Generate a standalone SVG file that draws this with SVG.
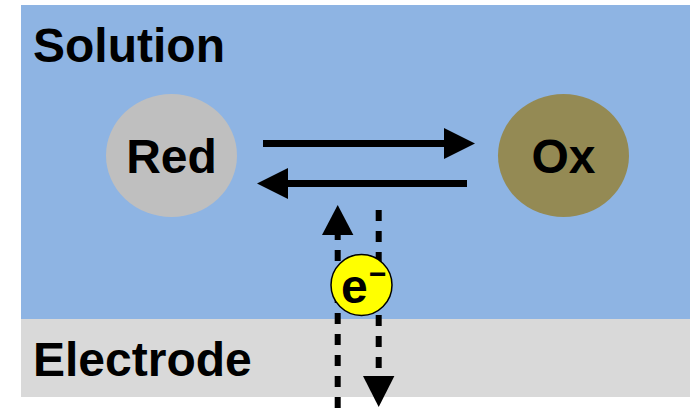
<svg xmlns="http://www.w3.org/2000/svg" width="690" height="408" viewBox="0 0 690 408">
<style>
text{font-family:"Liberation Sans",Arial,sans-serif;font-weight:bold;fill:#000}
.big{font-size:48px}
.solid{stroke:#000;stroke-width:7;fill:none}
.dash{stroke:#000;stroke-width:6;fill:none;stroke-dasharray:11 10}
.head{fill:#000}
</style>
<rect x="0" y="0" width="690" height="408" fill="#fff"/>
<g id="solution">
<rect x="21" y="5" width="669" height="314" fill="#8EB4E3"/>
<text class="big" x="33" y="62">Solution</text>
</g>
<g id="electrode">
<rect x="21" y="319" width="669" height="78" fill="#D9D9D9"/>
<text class="big" x="33" y="376">Electrode</text>
</g>
<g id="red">
<ellipse cx="171.5" cy="155.5" rx="65.5" ry="61.5" fill="#BFBFBF"/>
<text class="big" x="171.5" y="173" text-anchor="middle">Red</text>
</g>
<g id="ox">
<ellipse cx="563.5" cy="155.5" rx="65.5" ry="61.5" fill="#948A54"/>
<text class="big" x="563.5" y="173" text-anchor="middle">Ox</text>
</g>
<g id="connectors">
<line class="solid" x1="263" y1="143.5" x2="446" y2="143.5"/>
<polygon class="head" points="444,128 475,143.5 444,159"/>
<line class="solid" x1="467" y1="183.5" x2="286" y2="183.5"/>
<polygon class="head" points="288,168 257,183.5 288,199"/>
<line class="dash" x1="337.7" y1="229" x2="337.7" y2="408"/>
<polygon class="head" points="322,235 337.7,205 353.4,235"/>
<line class="dash" x1="378.7" y1="210" x2="378.7" y2="376"/>
<polygon class="head" points="363,376 378.7,407 394.4,376"/>
</g>
<g id="electron">
<circle cx="361.5" cy="285" r="30.5" fill="#FFFF00" stroke="#000" stroke-width="1.5"/>
<text class="big" x="341" y="303">e<tspan font-size="30" x="369" y="284">−</tspan></text>
</g>
</svg>
